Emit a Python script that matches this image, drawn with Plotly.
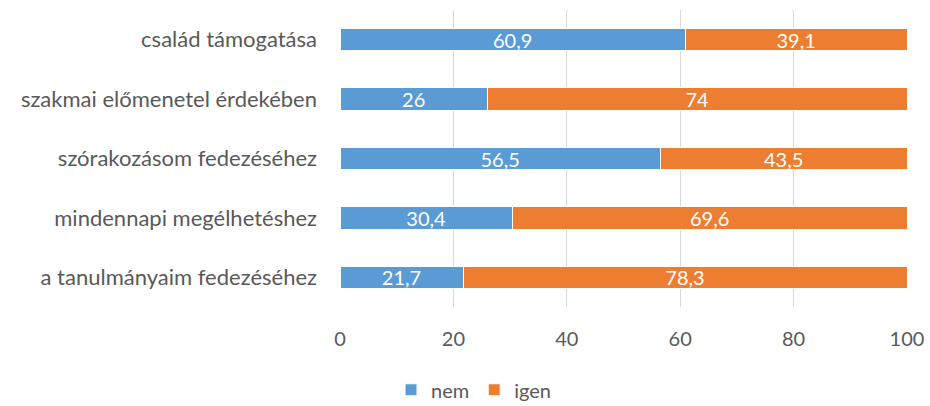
import plotly.graph_objects as go

categories = ["a tanulmányaim fedezéséhez", "mindennapi megélhetéshez",
              "szórakozásom fedezéséhez", "szakmai előmenetel érdekében",
              "család támogatása"]
nem = [21.7, 30.4, 56.5, 26, 60.9]
igen = [78.3, 69.6, 43.5, 74, 39.1]
nem_labels = ["21,7", "30,4", "56,5", "26", "60,9"]
igen_labels = ["78,3", "69,6", "43,5", "74", "39,1"]
tick_vals = [0, 20, 40, 60, 80, 100]

FONT = "Lato"
GRAY = "#595959"

fig = go.Figure()
for name, vals, labels, color in [("nem", nem, nem_labels, "#5B9BD5"),
                                  ("igen", igen, igen_labels, "#ED7D31")]:
    fig.add_trace(go.Bar(y=categories, x=vals, name=name, orientation="h",
                         marker=dict(color=color, line=dict(color="white", width=1)),
                         text=labels, textposition="inside", insidetextanchor="middle",
                         textangle=0, constraintext="none",
                         textfont=dict(color="white", size=20, family=FONT)))

fig.update_layout(
    barmode="stack", bargap=0.62,
    width=930, height=406,
    margin=dict(l=340, r=23, t=10, b=99, autoexpand=False),
    paper_bgcolor="white", plot_bgcolor="white",
    font=dict(family=FONT, size=20, color=GRAY),
    legend=dict(orientation="h", x=0.09, xanchor="left", y=-0.213, yanchor="top",
                font=dict(size=20, color=GRAY, family=FONT), traceorder="normal",
                itemwidth=30),
    xaxis=dict(range=[0, 100], tickvals=tick_vals, showgrid=True, gridcolor="#D9D9D9",
               gridwidth=1, zeroline=False, showline=False, ticks="", automargin=False,
               ticklabelstandoff=18, tickfont=dict(size=20, color=GRAY)),
    yaxis=dict(showgrid=False, ticks="", ticklabelstandoff=22, automargin=False,
               tickfont=dict(size=22, color=GRAY)),
)

fig.write_html("out.html", config={"displayModeBar": False},
               post_script="document.body.style.margin='0';document.body.style.overflow='hidden';")
